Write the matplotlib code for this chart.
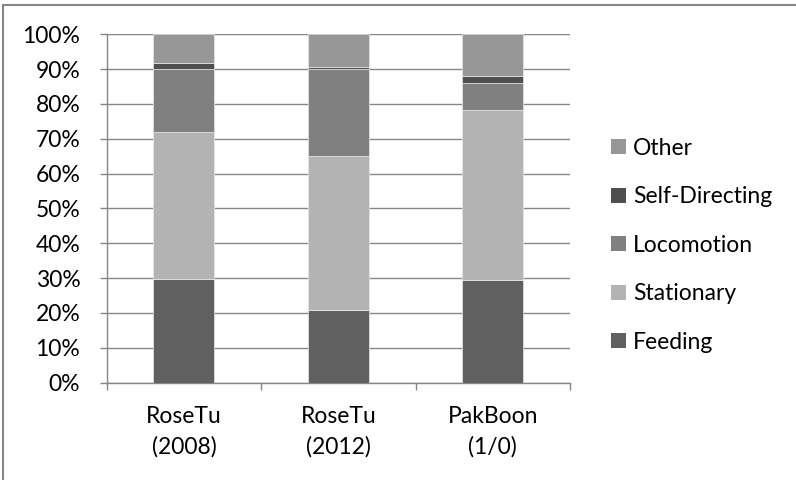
import matplotlib.pyplot as plt
from matplotlib.patches import Rectangle, Patch
import numpy as np

plt.rcParams['font.family'] = ['Lato', 'DejaVu Sans']

# 各组类别与各行为占比 (%)
groups = ['RoseTu\n(2008)', 'RoseTu\n(2012)', 'PakBoon\n(1/0)']
feeding = [29.7, 20.8, 29.5]
stationary = [42.2, 44.2, 48.7]
locomotion = [18.0, 24.9, 7.8]
self_directing = [1.8, 0.8, 1.9]
other = [8.3, 9.3, 12.1]

series = [
    ('Feeding', feeding, '#606060'),
    ('Stationary', stationary, '#b3b3b3'),
    ('Locomotion', locomotion, '#808080'),
    ('Self-Directing', self_directing, '#4f4f4f'),
    ('Other', other, '#979797'),
]

FS = 16.5
fig = plt.figure(figsize=(7.96, 4.8), dpi=100)
ax = fig.add_axes([0.134, 0.203, 0.582, 0.7255])

x = np.arange(len(groups))
bottom = np.zeros(len(groups))
for name, vals, col in series:
    ax.bar(x, vals, width=0.395, bottom=bottom, color=col,
           edgecolor='#e8e8e8', linewidth=0.5, zorder=3)
    bottom += np.array(vals)

grid_col = '#868686'
ax.set_xlim(-0.5, len(groups) - 0.5)
ax.set_ylim(0, 100)
ax.set_yticks(np.arange(0, 101, 10))
ax.set_yticklabels([f'{v}%' for v in range(0, 101, 10)])
ax.yaxis.grid(True, color=grid_col, linewidth=1.0, zorder=0)

# 类别标签放在两组之间的刻度中间
ax.set_xticks(np.arange(-0.5, len(groups), 1.0))
ax.set_xticklabels([])
ax.set_xticks(x, minor=True)
ax.set_xticklabels(groups, minor=True, linespacing=1.5)
ax.tick_params(axis='x', which='minor', length=0, pad=17, labelsize=FS)
ax.tick_params(axis='x', which='major', length=5, color=grid_col, width=1.0)
ax.tick_params(axis='y', length=5, color=grid_col, width=1.0, pad=14, labelsize=FS)

for side in ['top', 'right']:
    ax.spines[side].set_visible(False)
for side in ['left', 'bottom']:
    ax.spines[side].set_color(grid_col)
    ax.spines[side].set_linewidth(1.0)

handles = [Patch(facecolor=col, label=name) for name, vals, col in reversed(series)]
fig.legend(handles=handles, loc='center left', bbox_to_anchor=(0.756, 0.489),
           frameon=False, fontsize=FS, handlelength=0.65, handleheight=0.65,
           handletextpad=0.3, labelspacing=1.2, borderaxespad=0)

# 外边框
fig.patches.append(Rectangle((3 / 796, -0.1), 1.1, (475 / 480) + 0.1,
                             transform=fig.transFigure, fill=False,
                             edgecolor=grid_col, linewidth=1.5))

fig.savefig('out.png', dpi=100)
